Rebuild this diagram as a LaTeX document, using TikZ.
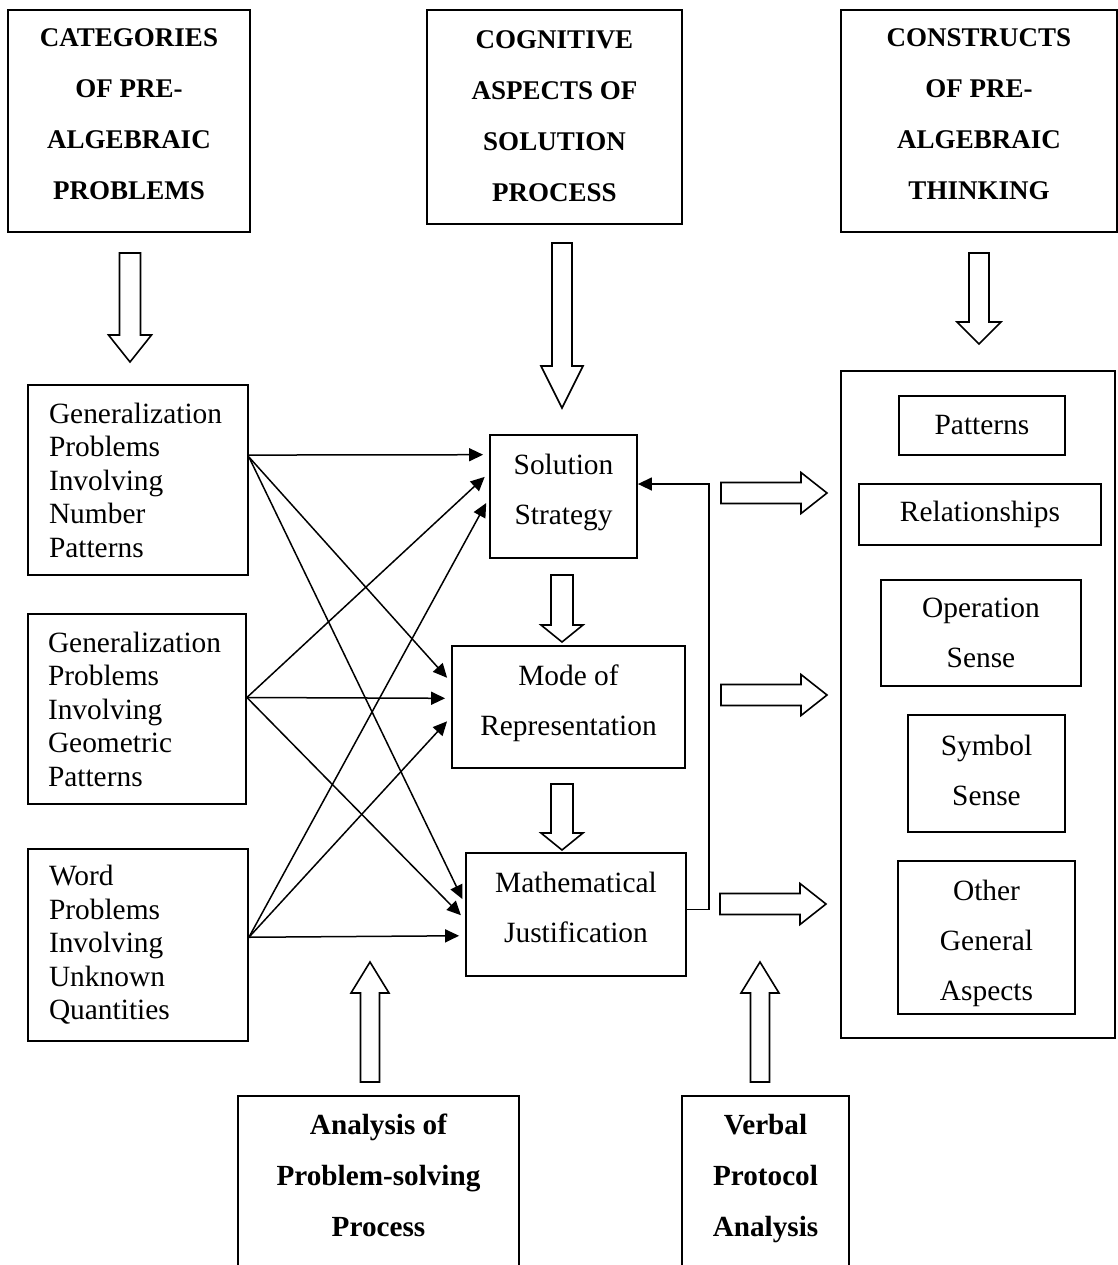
\documentclass[tikz,border=0pt]{standalone}
\usepackage{fontspec}
\setmainfont{Liberation Serif}
\usetikzlibrary{arrows.meta,calc}
\newcommand{\lift}[1]{\rule[-#1]{0pt}{0pt}}

\begin{document}
\begin{tikzpicture}[x=0.5pt, y=-0.5pt, every node/.style = {shape=rectangle, draw, line width=0.9pt, inner sep=0pt}]
	\tikzset{ head/.style = {align=center, font=\fontsize{13.5}{25.5}\selectfont\bfseries},
		problem/.style = {align=left, text width=89pt, minimum width=110pt, minimum height=95pt, font=\fontsize{14.7}{16.75}\selectfont},
		aspect/.style = {align=center, font=\fontsize{14.7}{25}\selectfont},
		method/.style = {align=center, font=\fontsize{14.6}{25.5}\selectfont\bfseries},
		link/.style = {line width=0.75pt, -{Triangle[length=7pt,width=6.5pt]}},
		cross/.style = {link, shorten >=3pt},
		pics/fat/.style args = {#1/#2/#3/#4}{code={
			\draw[line width=0.8pt] (0,0) -- (-#4,-#2) -- (-#3,-#2) -- (-#3,-#1) -- (#3,-#1) -- (#3,-#2) -- (#4,-#2) -- cycle;}} }
	\useasboundingbox (0,0) rectangle (1118,1265);
	\fill[white] (0,0) rectangle (1118,1265);
	\clip (0,0) rectangle (1118,1265);

	\node [head, minimum width=121pt, minimum height=111pt] (cat) at (129,121) {CATEGORIES\\OF PRE-\\ALGEBRAIC\\PROBLEMS\lift{7pt}};
	\node [head, minimum width=127.5pt, minimum height=107pt] (cog) at (554.5,117) {COGNITIVE\\ASPECTS OF\\SOLUTION\\PROCESS\lift{1pt}};
	\node [head, minimum width=138pt, minimum height=111pt] (con) at (979,121) {CONSTRUCTS\\OF PRE-\\ALGEBRAIC\\THINKING\lift{7pt}};

	\node [problem] (gpnp) at (138,480) {Generalization\\Problems\\Involving\\Number\\Patterns};
	\node [problem, minimum width=109pt] (gpgp) at (137,709) {Generalization\\Problems\\Involving\\Geometric\\Patterns};
	\node [problem, minimum height=96pt] (wpuq) at (138,945) {Word\\Problems\\Involving\\Unknown\\Quantities};

	\node [aspect, minimum width=73.5pt, minimum height=61.5pt] (ss) at (563.5,496.5) {Solution\\Strategy\lift{7pt}};
	\node [aspect, minimum width=116.5pt, minimum height=61pt] (mor) at (568.5,707) {Mode of\\Representation\lift{7pt}};
	\node [aspect, minimum width=110pt, minimum height=61.5pt] (mj) at (576,914.5) {Mathematical\\Justification\lift{7pt}};

	\node [minimum width=137pt, minimum height=333.5pt] (cons) at (978,704.5) {};
	\node [aspect, minimum width=83pt, minimum height=29.5pt] (pat) at (982,425.5) {Patterns};
	\node [aspect, minimum width=121pt, minimum height=30.5pt] (rel) at (980,514.5) {Relationships};
	\node [aspect, minimum width=100pt, minimum height=53pt] (ops) at (981,633) {Operation\\Sense};
	\node [aspect, minimum width=78.5pt, minimum height=58.5pt] (sym) at (986.5,773.5) {Symbol\\Sense\lift{3pt}};
	\node [aspect, minimum width=88.5pt, minimum height=76.5pt] (oga) at (986.5,937.5) {\rule{0pt}{16pt}Other\\General\\Aspects};

	\node [method, minimum width=140.5pt, minimum height=88pt] (aps) at (378.5,1184) {Analysis of\\Problem-solving\\Process\lift{9pt}};
	\node [method, minimum width=83.5pt, minimum height=88pt] (vpa) at (765.5,1184) {Verbal\\Protocol\\Analysis\lift{9pt}};

	\pic at (130,362) {fat=109/27/10.5/21.5};
	\pic at (562,408) {fat=165/42/10/21};
	\pic at (979,344) {fat=91/22/10/22};
	\pic at (562,642) {fat=67/17/11/21};
	\pic at (562,850) {fat=66/17/11/21};
	\pic [rotate=90] at (827,493) {fat=106/26/10.5/20.5};
	\pic [rotate=90] at (827,695) {fat=106/26/10.5/20.5};
	\pic [rotate=90] at (826,904) {fat=106/26/10.5/20.5};
	\pic [rotate=180] at (370,962) {fat=120/31/9.5/19};
	\pic [rotate=180] at (760,962) {fat=120/31/9.5/19};

	\foreach \a/\fa/\b/\fb in {gpnp/0.37/ss/0.165, gpnp/0.38/mor/0.30, gpnp/0.38/mj/0.42,
		gpgp/0.44/ss/0.31, gpgp/0.44/mor/0.43, gpgp/0.44/mj/0.54,
		wpuq/0.46/ss/0.51, wpuq/0.46/mor/0.58, wpuq/0.46/mj/0.67}
		\draw[cross] ($(\a.north east)!\fa!(\a.south east)$) -- ($(\b.north west)!\fb!(\b.south west)$);

	\coordinate (back) at (709,484);
	\draw[link] ($(mj.north east)!0.46!(mj.south east)$) -| (back) -- (ss.east |- back);
\end{tikzpicture}
\end{document}
